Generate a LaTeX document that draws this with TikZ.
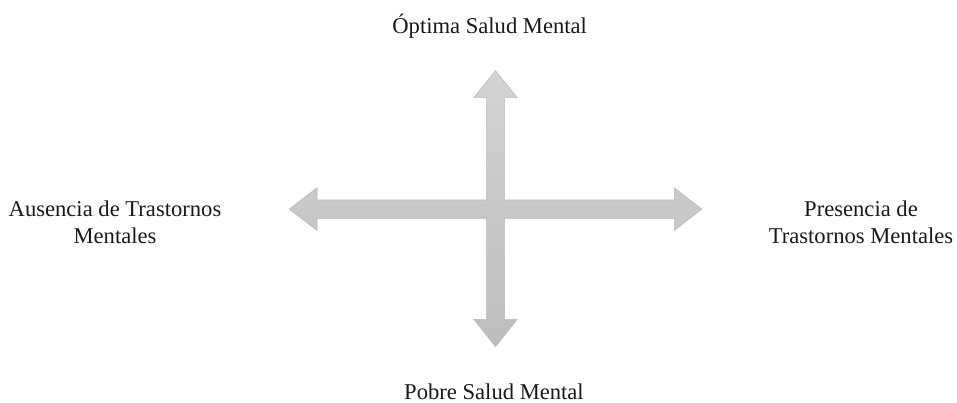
\documentclass[tikz,border=0pt]{standalone}
\usepackage{fontspec}
\setmainfont{Liberation Serif}
\definecolor{arrtop}{HTML}{D3D3D3}
\definecolor{arrbot}{HTML}{BDBDBD}
\definecolor{arredge}{HTML}{B9B9B9}
\begin{document}
\begin{tikzpicture}[x=1pt,y=-1pt,
  lbl/.style={font=\fontsize{22.6}{26.3}\selectfont, inner sep=0pt, align=center, text=black!90},
  cross/.style={top color=arrtop, bottom color=arrbot, draw=arredge, line width=0.6pt, line join=miter}]
\useasboundingbox (0,0) rectangle (957,403);
\path[cross] (495.5,70.7) -- (517.2,97.7) -- (504.6,97.7) -- (504.6,200) -- (674.3,200) -- (674.3,187.8)
  -- (701.7,209.1) -- (674.3,230.4) -- (674.3,218.3) -- (504.6,218.3) -- (504.6,319.3) -- (517.2,319.3)
  -- (495.5,346.7) -- (473.8,319.3) -- (486.6,319.3) -- (486.6,218.3) -- (317,218.3) -- (317,230.4)
  -- (289.3,209.1) -- (317,187.8) -- (317,200) -- (486.6,200) -- (486.6,97.7) -- (473.8,97.7) -- cycle;
\node[lbl, anchor=base] (top) at (489.7,33.3) {Óptima Salud Mental};
\node[lbl, anchor=base] (bot) at (494,399.3) {Pobre Salud Mental};
\node[lbl, anchor=base] (left) at (115,243) {Ausencia de Trastornos\\Mentales};
\node[lbl, anchor=base] (right) at (861,243) {Presencia de\\Trastornos Mentales};
\end{tikzpicture}
\end{document}
